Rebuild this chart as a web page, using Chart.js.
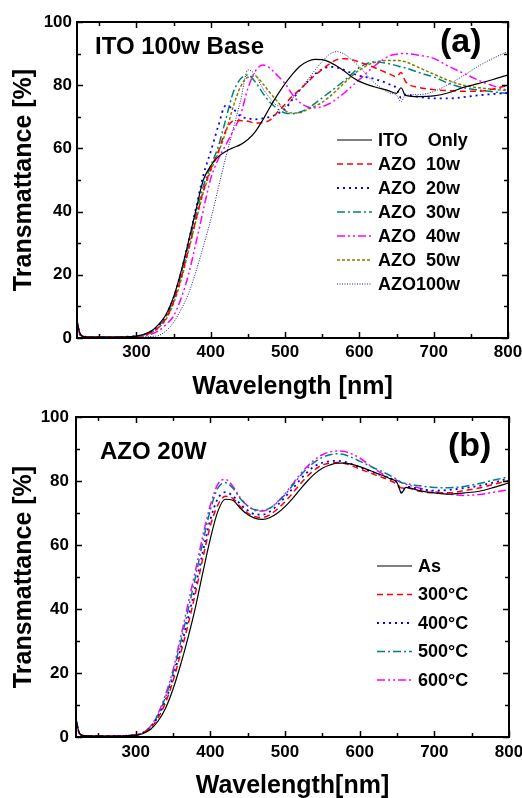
<!DOCTYPE html>
<html>
<head>
<meta charset="utf-8">
<script src="https://cdn.jsdelivr.net/npm/chart.js@4.4.1/dist/chart.umd.min.js"></script>
<style>
  body { margin: 0; background: #fff; }
  canvas { display: block; }
</style>
</head>
<body>
<canvas id="chartA" width="522" height="400"></canvas>
<canvas id="chartB" width="522" height="398"></canvas>
<script>
// wavelength grid (nm) shared by every curve
const wavelength = [220, 224, 230, 260, 300, 310, 320, 330, 340, 350, 360, 370, 380, 390, 400, 410, 420, 430, 440, 450, 460, 470, 480, 490, 500, 510, 520, 530, 540, 550, 560, 570, 580, 590, 600, 620, 640, 650, 656, 662, 680, 700, 720, 740, 760, 780, 800]

// (a) ITO 100w base
const itoOnly = [5.5, 1.5, 0.4, 0.3, 0.6, 1.2, 2.2, 4.3, 7.5, 13, 21, 30.5, 40.5, 50, 54.5, 57.3, 59, 60.2, 61.2, 62.8, 65.3, 69, 73.2, 77, 80.5, 83.5, 86, 87.5, 88.2, 88.1, 87.3, 86, 84.4, 82.6, 81.2, 79.5, 78.2, 77.4, 79.2, 76.8, 76.4, 76.6, 77.6, 79.3, 80.5, 81.8, 83.3]
const azo10w = [5.2, 1.3, 0.4, 0.3, 0.5, 0.9, 1.7, 3.4, 6.3, 11.5, 19, 28, 37.5, 46.5, 53.5, 59, 65.5, 68.7, 68.8, 68.6, 68, 68.2, 69, 71.5, 74, 76.6, 78.7, 80.9, 83.1, 85, 86.8, 88.1, 88.4, 88.1, 87.3, 85.6, 83.6, 82.7, 84, 81.2, 79.3, 78.6, 78.3, 78.1, 78.1, 78.8, 80]
const azo20w = [5.0, 1.2, 0.4, 0.3, 0.6, 1.1, 2.1, 4.1, 7.3, 12.8, 20.8, 30.5, 41, 51.5, 59, 67, 73.5, 72.5, 70.2, 69.5, 69.2, 69.5, 70, 71, 72.5, 75.5, 78.5, 81, 83.5, 85, 85.8, 85.6, 84.8, 83.8, 83, 82, 80.3, 79, 76, 77, 76.3, 75.8, 75.8, 76.2, 76.8, 77.2, 77.6]
const azo30w = [5.0, 1.2, 0.4, 0.3, 0.5, 1.0, 1.9, 3.8, 6.9, 12.3, 20, 29.3, 39, 48, 54.5, 60.5, 69, 77.5, 82, 83.2, 81, 77.5, 74.5, 72.5, 71.2, 71, 71.5, 72.6, 74.2, 76, 77.8, 79.6, 81.5, 83.6, 85.6, 87.4, 86.8, 86.2, 85.8, 85.5, 84, 82.6, 80.6, 79.2, 78.5, 77.9, 77.4]
const azo40w = [4.8, 1.1, 0.3, 0.2, 0.4, 0.7, 1.2, 2.3, 4.3, 7, 12.5, 20, 30, 40.5, 50.5, 56.5, 61, 65.5, 70.5, 79, 84.5, 86.4, 85.3, 83, 80.5, 77, 74.5, 73.2, 72.9, 73.2, 74.2, 75.8, 77.6, 79.7, 81.8, 86, 89.2, 89.8, 90, 90, 89.5, 88.5, 86, 83.8, 81.6, 79.8, 78.3]
const azo50w = [5.0, 1.2, 0.4, 0.3, 0.5, 0.9, 1.7, 3.3, 6, 11, 18.3, 27.5, 37, 46, 53, 58.5, 65, 73, 79.5, 82.5, 82.8, 80.5, 77.5, 74.8, 72, 71.2, 71.3, 72.3, 73.3, 74.6, 76.4, 78.5, 80.8, 83, 84.8, 87.2, 87.8, 87.8, 87.7, 87.4, 85.6, 83.5, 81.5, 80, 79.2, 78.7, 78.3]
const azo100w = [4.5, 1.0, 0.3, 0.2, 0.3, 0.4, 0.5, 0.8, 2.3, 5, 9, 14, 21, 29, 37.5, 47.3, 57, 66, 75, 84.8, 83.3, 79, 75.8, 73.5, 73.3, 75.8, 78.5, 81.6, 84.7, 87.5, 89.8, 90.6, 89.8, 88, 85.8, 80.8, 77.6, 76.8, 74.8, 76.8, 77, 78, 80.3, 83, 86, 88.5, 90.7]

// (b) AZO 20W annealing
const asDeposited = [5.5, 1.5, 0.4, 0.3, 0.6, 1.1, 2.4, 5, 9, 15, 22.5, 31, 40.5, 51.5, 62, 70.5, 74.3, 74, 71.5, 69.5, 68.3, 68, 68.6, 70, 72, 74.5, 77.3, 80, 82.3, 84, 85, 85.6, 85.6, 85.2, 84.5, 82.7, 80.8, 79.5, 76.3, 78, 77, 76.3, 75.9, 76.3, 76.8, 78, 79.4]
const anneal300 = [5.3, 1.4, 0.4, 0.3, 0.6, 1.3, 2.9, 6, 10.8, 17.5, 26, 35, 45, 56, 66, 72.5, 75.2, 74.6, 72, 70, 68.8, 68.6, 69.5, 71.3, 73.5, 76.2, 79, 81.5, 83.6, 85, 85.6, 85.8, 85.5, 84.7, 83.8, 82, 80.2, 79, 77.8, 77.9, 76.8, 76.3, 76.3, 77, 77.8, 79, 80.2]
const anneal400 = [5.2, 1.4, 0.4, 0.3, 0.6, 1.3, 3, 6.4, 11.5, 18.5, 27.5, 37, 47, 58, 68, 74.5, 76.5, 75.4, 72.8, 70.8, 69.6, 69.5, 70.5, 72.5, 75, 77.6, 80.3, 82.8, 84.7, 85.7, 86.2, 86.3, 86, 85.2, 84.3, 82.5, 80.8, 79.6, 76.3, 78.3, 77.5, 77, 77.2, 77.8, 78.5, 79.6, 80.8]
const anneal500 = [5.4, 1.5, 0.4, 0.3, 0.6, 1.4, 3.2, 7, 12.5, 20, 29.5, 39.5, 50, 61, 71, 77.8, 79.5, 77.8, 74.5, 72.2, 71, 70.8, 71.6, 73.4, 75.8, 78.6, 81.5, 84, 86, 87.4, 88.2, 88.5, 88.2, 87.3, 86.2, 84, 81.8, 80.5, 79.5, 79.2, 78.5, 78, 77.9, 78.3, 79.2, 80.3, 81.3]
const anneal600 = [5.6, 1.6, 0.4, 0.3, 0.6, 1.5, 3.4, 7.4, 13.3, 21, 31, 41.5, 52, 63, 72.5, 79, 80.5, 78.4, 74.8, 72.2, 70.8, 70.6, 71.5, 73.5, 76, 79, 82, 84.6, 86.7, 88.2, 89.1, 89.4, 89.2, 88.4, 87.2, 83.8, 81, 80.2, 79.5, 79, 77.8, 76.7, 75.9, 75.5, 75.8, 76.5, 77.3]

// axis ticks
const xTickLabels = [300, 400, 500, 600, 700, 800]
const xMinorTicks = [250, 350, 450, 550, 650, 750]
const yTickLabels = [0, 20, 40, 60, 80, 100]
const yMinorTicks = [10, 30, 50, 70, 90]

const FONT = "'Liberation Sans', Arial, sans-serif"
Chart.defaults.font.family = FONT
Chart.defaults.color = '#000'

const styles = {
  black:   { borderColor: '#000000', borderWidth: 1.2, borderDash: [] },
  red:     { borderColor: '#ff0000', borderWidth: 1.5, borderDash: [6, 4] },
  blue:    { borderColor: '#0000ff', borderWidth: 1.8, borderDash: [2, 4] },
  teal:    { borderColor: '#008080', borderWidth: 1.5, borderDash: [8, 3, 2, 3] },
  magenta: { borderColor: '#ff00ff', borderWidth: 1.5, borderDash: [8, 3, 2, 3, 2, 3] },
  olive:   { borderColor: '#808000', borderWidth: 1.5, borderDash: [3, 2] },
  navy:    { borderColor: '#1a1a99', borderWidth: 1.0, borderDash: [1, 1.5] }
}

function series(label, values, style) {
  return Object.assign({
    label: label,
    data: wavelength.map((w, i) => ({ x: w, y: values[i] })),
    pointRadius: 0,
    fill: false,
    cubicInterpolationMode: 'monotone'
  }, styles[style])
}

// keep the plot box where the figure has it (no room kept for the last tick label)
function noPadding(s) {
  s.paddingLeft = 0
  s.paddingRight = 0
  s.paddingTop = 0
  s.paddingBottom = 0
}

// box, inward ticks on all four sides, panel texts and legend
const decor = {
  id: 'decor',
  afterDraw(chart, args, opts) {
    const { ctx, chartArea: a, scales: { x, y } } = chart
    ctx.save()
    ctx.strokeStyle = '#000'
    ctx.lineWidth = 2
    ctx.setLineDash([])
    ctx.strokeRect(a.left, a.top, a.right - a.left, a.bottom - a.top)

    ctx.lineWidth = 1.5
    ctx.beginPath()
    const xt = xTickLabels.map(v => [v, 6]).concat(xMinorTicks.map(v => [v, 4]))
    xt.forEach(([v, len]) => {
      const px = Math.round(x.getPixelForValue(v)) + 0.5
      ctx.moveTo(px, a.bottom); ctx.lineTo(px, a.bottom - len)
      ctx.moveTo(px, a.top); ctx.lineTo(px, a.top + len)
    })
    const yt = yTickLabels.map(v => [v, 6]).concat(yMinorTicks.map(v => [v, 4]))
    yt.forEach(([v, len]) => {
      const py = Math.round(y.getPixelForValue(v)) + 0.5
      ctx.moveTo(a.left, py); ctx.lineTo(a.left + len, py)
      ctx.moveTo(a.right, py); ctx.lineTo(a.right - len, py)
    })
    ctx.stroke()

    ctx.fillStyle = '#000'
    ctx.textBaseline = 'middle'
    ctx.textAlign = 'left'
    ctx.font = 'bold 24px ' + FONT
    ctx.fillText(opts.label, opts.labelX, opts.labelY)
    ctx.font = 'bold 34px ' + FONT
    ctx.fillText(opts.tag, opts.tagX, opts.tagY)

    // legend
    ctx.font = 'bold 18px ' + FONT
    chart.data.datasets.forEach((ds, i) => {
      const ly = opts.legendY + i * opts.legendGap
      ctx.strokeStyle = ds.borderColor
      ctx.lineWidth = ds.borderWidth
      ctx.setLineDash(ds.borderDash)
      ctx.beginPath()
      ctx.moveTo(opts.legendX, ly)
      ctx.lineTo(opts.legendX + 35, ly)
      ctx.stroke()
      ctx.setLineDash([])
      ctx.fillText(ds.label, opts.legendX + 41, ly + 1)
    })
    ctx.restore()
  }
}

function makePanel(id, datasets, p) {
  return new Chart(document.getElementById(id), {
    type: 'line',
    data: { datasets: datasets },
    plugins: [decor],
    options: {
      responsive: false,
      animation: false,
      layout: { padding: { top: p.top, right: p.right, left: 0, bottom: 0 }, autoPadding: false },
      plugins: {
        legend: { display: false },
        tooltip: { enabled: false },
        decor: p.decor
      },
      scales: {
        x: {
          type: 'linear',
          min: 220,
          max: 800,
          afterFit: s => { s.height = p.xHeight; noPadding(s) },
          afterBuildTicks: s => { s.ticks = xTickLabels.map(v => ({ value: v })) },
          grid: { display: false, drawTicks: false },
          border: { display: false },
          ticks: { padding: p.xPad, autoSkip: false, maxRotation: 0, color: '#000', font: { size: 17, weight: 'bold' } },
          title: { display: true, text: p.xTitle, color: '#000', padding: { top: 0, bottom: p.xTitlePad }, font: { size: 25, weight: 'bold', lineHeight: 1 } }
        },
        y: {
          type: 'linear',
          min: 0,
          max: 100,
          afterFit: s => { s.width = p.yWidth; noPadding(s) },
          afterBuildTicks: s => { s.ticks = yTickLabels.map(v => ({ value: v })) },
          grid: { display: false, drawTicks: false },
          border: { display: false },
          ticks: { padding: p.yPad, color: '#000', font: { size: 17, weight: 'bold' } },
          title: { display: true, text: 'Transmattance [%]', color: '#000', padding: { top: 12, bottom: 0 }, font: { size: 25, weight: 'bold', lineHeight: 1 } }
        }
      }
    }
  })
}

makePanel('chartA', [
  series('ITO    Only', itoOnly, 'black'),
  series('AZO  10w', azo10w, 'red'),
  series('AZO  20w', azo20w, 'blue'),
  series('AZO  30w', azo30w, 'teal'),
  series('AZO  40w', azo40w, 'magenta'),
  series('AZO  50w', azo50w, 'olive'),
  series('AZO100w', azo100w, 'navy')
], {
  top: 22, right: 14, xHeight: 62, yWidth: 77, xPad: 4, yPad: 5,
  xTitle: 'Wavelength [nm]', xTitlePad: 0.5,
  decor: { label: 'ITO 100w Base', labelX: 95, labelY: 47, tag: '(a)', tagX: 440, tagY: 43,
           legendX: 337, legendY: 140, legendGap: 24 }
})

makePanel('chartB', [
  series('As', asDeposited, 'black'),
  series('300°C', anneal300, 'red'),
  series('400°C', anneal400, 'blue'),
  series('500°C', anneal500, 'teal'),
  series('600°C', anneal600, 'magenta')
], {
  top: 17, right: 13, xHeight: 61, yWidth: 76, xPad: 5, yPad: 7,
  xTitle: 'Wavelength[nm]', xTitlePad: -1,
  decor: { label: 'AZO 20W', labelX: 100, labelY: 52, tag: '(b)', tagX: 448, tagY: 47,
           legendX: 377, legendY: 166, legendGap: 28.5 }
})
</script>
</body>
</html>
